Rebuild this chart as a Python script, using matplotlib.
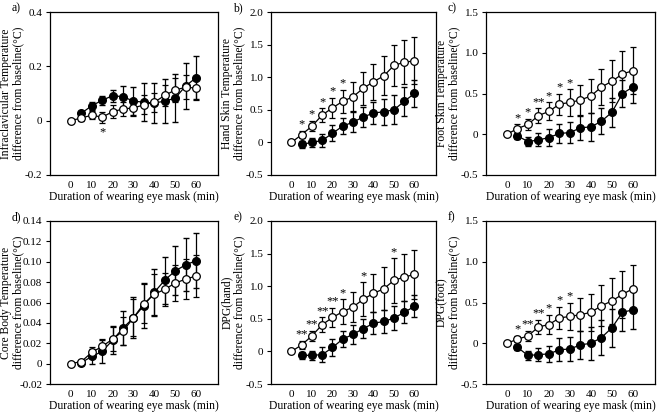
import matplotlib
matplotlib.use("Agg")
import matplotlib.pyplot as plt

plt.rcParams["font.family"] = ["Liberation Serif", "DejaVu Serif"]
plt.rcParams["font.size"] = 8

TIME = [0, 5, 10, 15, 20, 25, 30, 35, 40, 45, 50, 55, 60]
TIME_F = TIME[1:]

# panel a: infraclavicular
A_OPEN = [0, 0.010, 0.020, 0.013, 0.033, 0.043, 0.047, 0.058, 0.068, 0.093, 0.113, 0.123, 0.120]
A_OPEN_ERR = [0, 0.010, 0.015, 0.020, 0.025, 0.025, 0.030, 0.035, 0.035, 0.040, 0.045, 0.045, 0.045]
A_FILL = [0.027, 0.055, 0.075, 0.092, 0.088, 0.072, 0.068, 0.065, 0.072, 0.083, 0.128, 0.158]
A_FILL_ERR = [0.010, 0.015, 0.017, 0.022, 0.040, 0.052, 0.070, 0.075, 0.080, 0.088, 0.085, 0.080]
A_STARS = {15: "*"}

# panel b: hand skin
B_OPEN = [0, 0.12, 0.25, 0.42, 0.53, 0.63, 0.70, 0.83, 0.93, 1.02, 1.18, 1.23, 1.25]
B_OPEN_ERR = [0, 0.06, 0.08, 0.10, 0.15, 0.18, 0.22, 0.25, 0.28, 0.30, 0.32, 0.34, 0.36]
B_FILL = [-0.03, 0.0, 0.03, 0.14, 0.25, 0.31, 0.39, 0.45, 0.47, 0.50, 0.63, 0.75]
B_FILL_ERR = [0.05, 0.07, 0.10, 0.12, 0.12, 0.15, 0.16, 0.17, 0.20, 0.22, 0.22, 0.21]
B_STARS = {5: "*", 10: "*", 15: "*", 20: "*", 25: "*"}

# panel c: foot skin
C_OPEN = [0, 0.07, 0.12, 0.23, 0.28, 0.37, 0.39, 0.42, 0.47, 0.58, 0.65, 0.74, 0.78]
C_OPEN_ERR = [0, 0.05, 0.07, 0.09, 0.11, 0.13, 0.16, 0.18, 0.21, 0.22, 0.26, 0.28, 0.29]
C_FILL = [-0.02, -0.09, -0.07, -0.04, 0.01, 0.02, 0.08, 0.09, 0.16, 0.27, 0.50, 0.58]
C_FILL_ERR = [0.04, 0.06, 0.08, 0.10, 0.12, 0.13, 0.15, 0.17, 0.16, 0.18, 0.17, 0.20]
C_STARS = {5: "*", 10: "*", 15: "**", 20: "*", 25: "*", 30: "*"}

# panel d: core body
D_OPEN = [0, 0.002, 0.011, 0.017, 0.024, 0.032, 0.045, 0.059, 0.068, 0.073, 0.079, 0.083, 0.086]
D_OPEN_ERR = [0, 0.002, 0.005, 0.007, 0.012, 0.014, 0.018, 0.019, 0.020, 0.016, 0.018, 0.020, 0.021]
D_FILL = [0.001, 0.007, 0.012, 0.023, 0.035, 0.045, 0.057, 0.070, 0.082, 0.091, 0.097, 0.101]
D_FILL_ERR = [0.002, 0.007, 0.011, 0.014, 0.017, 0.020, 0.022, 0.023, 0.023, 0.024, 0.026, 0.027]
D_STARS = {}

# panel e: DPG hand
E_OPEN = [0, 0.10, 0.24, 0.41, 0.52, 0.61, 0.68, 0.80, 0.89, 0.96, 1.09, 1.14, 1.18]
E_OPEN_ERR = [0, 0.06, 0.08, 0.11, 0.15, 0.19, 0.23, 0.26, 0.29, 0.33, 0.34, 0.36, 0.38]
E_FILL = [-0.06, -0.06, -0.05, 0.06, 0.19, 0.26, 0.35, 0.43, 0.46, 0.51, 0.60, 0.69]
E_FILL_ERR = [0.05, 0.07, 0.11, 0.13, 0.13, 0.14, 0.15, 0.17, 0.18, 0.18, 0.17, 0.17]
E_STARS = {5: "**", 10: "**", 15: "**", 20: "**", 25: "*", 35: "*", 50: "*"}

# panel f: DPG foot
F_OPEN = [0, 0.05, 0.09, 0.20, 0.23, 0.31, 0.33, 0.35, 0.38, 0.46, 0.52, 0.60, 0.67]
F_OPEN_ERR = [0, 0.04, 0.06, 0.09, 0.12, 0.14, 0.17, 0.20, 0.23, 0.25, 0.28, 0.29, 0.29]
F_FILL = [-0.05, -0.15, -0.14, -0.13, -0.08, -0.07, -0.02, 0.0, 0.07, 0.19, 0.38, 0.41]
F_FILL_ERR = [0.03, 0.06, 0.08, 0.10, 0.14, 0.15, 0.17, 0.20, 0.21, 0.23, 0.23, 0.24]
F_STARS = {5: "*", 10: "**", 15: "**", 20: "*", 25: "*", 30: "*"}

PANELS = [
    ("a)", "Infraclavicular Temperature\ndifference from baseline(\u00b0C)",
     A_OPEN, A_OPEN_ERR, A_FILL, A_FILL_ERR, A_STARS,
     (-0.2, 0.4), [-0.2, 0, 0.2, 0.4], ["-0.2", "0", "0.2", "0.4"]),
    ("b)", "Hand Skin Temperature\ndifference from baseline(\u00b0C)",
     B_OPEN, B_OPEN_ERR, B_FILL, B_FILL_ERR, B_STARS,
     (-0.5, 2.0), [-0.5, 0, 0.5, 1.0, 1.5, 2.0], ["-0.5", "0", "0.5", "1.0", "1.5", "2.0"]),
    ("c)", "Foot Skin Temperature\ndifference from baseline(\u00b0C)",
     C_OPEN, C_OPEN_ERR, C_FILL, C_FILL_ERR, C_STARS,
     (-0.5, 1.5), [-0.5, 0, 0.5, 1.0, 1.5], ["-0.5", "0", "0.5", "1.0", "1.5"]),
    ("d)", "Core Body Temperature\ndifference from baseline(\u00b0C)",
     D_OPEN, D_OPEN_ERR, D_FILL, D_FILL_ERR, D_STARS,
     (-0.02, 0.14), [-0.02, 0, 0.02, 0.04, 0.06, 0.08, 0.10, 0.12, 0.14],
     ["-0.02", "0", "0.02", "0.04", "0.06", "0.08", "0.10", "0.12", "0.14"]),
    ("e)", "DPG(hand)\ndifference from baseline(\u00b0C)",
     E_OPEN, E_OPEN_ERR, E_FILL, E_FILL_ERR, E_STARS,
     (-0.5, 2.0), [-0.5, 0, 0.5, 1.0, 1.5, 2.0], ["-0.5", "0", "0.5", "1.0", "1.5", "2.0"]),
    ("f)", "DPG(foot)\ndifference from baseline(\u00b0C)",
     F_OPEN, F_OPEN_ERR, F_FILL, F_FILL_ERR, F_STARS,
     (-0.5, 1.5), [-0.5, 0, 0.5, 1.0, 1.5], ["-0.5", "0", "0.5", "1.0", "1.5"]),
]

W, H = 657, 412
fig = plt.figure(figsize=(W / 100, H / 100), dpi=100)

# axes boxes in pixels: left, top, right, bottom
LEFTS = [50, 271, 486]
RIGHTS = [218, 436, 655]
TOPS = [12, 221]
BOTTOMS = [175, 384]

for i, (tag, ylabel, op, ope, fi, fie, stars, ylim, yt, ytl) in enumerate(PANELS):
    r, c = divmod(i, 3)
    l, rr = LEFTS[c], RIGHTS[c]
    t, b = TOPS[r], BOTTOMS[r]
    ax = fig.add_axes([l / W, 1 - b / H, (rr - l) / W, (b - t) / H])

    ax.errorbar(TIME_F, fi, yerr=fie, color="black", marker="o", ms=5.5,
                mfc="black", mec="black", lw=0.9, elinewidth=0.9, capsize=2.5, zorder=2)
    ax.errorbar(TIME, op, yerr=ope, color="black", marker="o", ms=5.5,
                mfc="white", mec="black", mew=0.9, lw=0.9, elinewidth=0.9, capsize=2.5, zorder=3)

    span = ylim[1] - ylim[0]
    for tm, s in stars.items():
        k = TIME.index(tm)
        if tag == "a)":
            y = op[k] - ope[k] - 0.02 * span
            va = "top"
        else:
            y = op[k] + ope[k] + 0.002 * span
            va = "bottom"
        ax.text(tm, y, s, ha="center", va=va, fontsize=9)

    ax.set_xlim(-10, 70.5)
    ax.set_ylim(*ylim)
    ax.set_xticks([0, 10, 20, 30, 40, 50, 60])
    ax.set_yticks(yt)
    ax.set_yticklabels(ytl)
    ax.tick_params(direction="out", length=3, width=0.8, labelsize=8, pad=2.5)
    ax.tick_params(axis="x", length=0, pad=4)
    for sp in ax.spines.values():
        sp.set_linewidth(0.9)
    ax.set_xlabel("Duration of wearing eye mask (min)", fontsize=8.4, labelpad=1)
    ax.set_ylabel(ylabel, fontsize=8.4, linespacing=1.08)
    ax.yaxis.label.set_va("center")
    ax.yaxis.set_label_coords(-38 / (rr - l), 0.5)
    fig.text((l - 38) / W, 1 - (t - 4) / H, tag, fontsize=8.4, ha="left", va="center")

fig.savefig("out.png", dpi=100)
